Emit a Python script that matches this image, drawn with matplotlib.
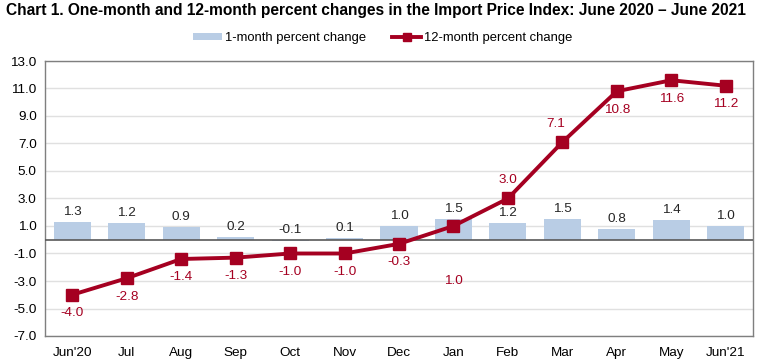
import matplotlib
matplotlib.use("Agg")
import matplotlib.pyplot as plt
from matplotlib.lines import Line2D
from matplotlib.patches import Patch
import numpy as np

plt.rcParams['font.family'] = ['Liberation Sans', 'DejaVu Sans']

months = ["Jun'20", "Jul", "Aug", "Sep", "Oct", "Nov", "Dec", "Jan", "Feb", "Mar", "Apr", "May", "Jun'21"]
one_month = [1.3, 1.2, 0.9, 0.2, -0.1, 0.1, 1.0, 1.5, 1.2, 1.5, 0.8, 1.4, 1.0]
twelve_month = [-4.0, -2.8, -1.4, -1.3, -1.0, -1.0, -0.3, 1.0, 3.0, 7.1, 10.8, 11.6, 11.2]
yticks = [-7.0, -5.0, -3.0, -1.0, 1.0, 3.0, 5.0, 7.0, 9.0, 11.0, 13.0]
label_pos = ["below"] * 8 + ["above", "aboveleft"] + ["below"] * 3

bar_color = "#B9CDE5"
line_color = "#A50021"

fig = plt.figure(figsize=(7.6, 3.62), dpi=100)
ax = fig.add_axes([45/760, 1 - 336/362, (753-45)/760, (336-61)/362])

x = np.arange(len(months))
ax.bar(x, one_month, width=0.68, color=bar_color, zorder=2)
ax.axhline(0, color="#595959", lw=1.2, zorder=3)
ax.plot(x, twelve_month, color=line_color, lw=2.8, marker="s", markersize=8.5, zorder=4)

fs = 9.7
for xi, v in zip(x, one_month):
    ax.annotate(f"{v:.1f}", (xi, max(v, 0)), xytext=(0, 3), textcoords="offset points",
                ha="center", va="bottom", fontsize=fs, color="#262626")

for xi, v, pos in zip(x, twelve_month, label_pos):
    if pos == "below":
        dy = -35 if months[xi] == "Jan" else -9
        ax.annotate(f"{v:.1f}", (xi, v), xytext=(0, dy), textcoords="offset points",
                    ha="center", va="top", fontsize=fs, color=line_color)
    elif pos == "above":
        ax.annotate(f"{v:.1f}", (xi, v), xytext=(0, 9), textcoords="offset points",
                    ha="center", va="bottom", fontsize=fs, color=line_color)
    else:
        ax.annotate(f"{v:.1f}", (xi, v), xytext=(-5, 9), textcoords="offset points",
                    ha="center", va="bottom", fontsize=fs, color=line_color)

ax.set_xlim(-0.5, len(months) - 0.5)
ax.set_ylim(-7, 13)
ax.set_yticks(yticks)
ax.set_yticklabels([f"{t:.1f}" for t in yticks], fontsize=fs)
ax.set_xticks(x)
ax.set_xticklabels(months, fontsize=fs)
ax.tick_params(axis="y", length=0, pad=6)
ax.tick_params(axis="x", length=0, pad=8)
ax.grid(axis="y", color="#E0E0E0", lw=1, zorder=0)
ax.set_axisbelow(True)
for s in ax.spines.values():
    s.set_color("#7F7F7F")
    s.set_linewidth(1)

handles = [Patch(facecolor=bar_color, edgecolor="none"),
           Line2D([0], [0], color=line_color, lw=2.8, marker="s", markersize=6)]
fig.legend(handles, ["1-month percent change", "12-month percent change"],
           loc="center", bbox_to_anchor=(383/760, 1 - 38.5/362), ncol=2, frameon=False,
           fontsize=9.4, handlelength=2.2, handleheight=0.45, columnspacing=2.0,
           handletextpad=0.25)

fig.text(6/760, 1 - 10/362, "Chart 1. One-month and 12-month percent changes in the Import Price Index: June 2020 \u2013 June 2021",
         fontsize=11.2, fontweight="bold", ha="left", va="center")

fig.savefig("out.png", dpi=100)
